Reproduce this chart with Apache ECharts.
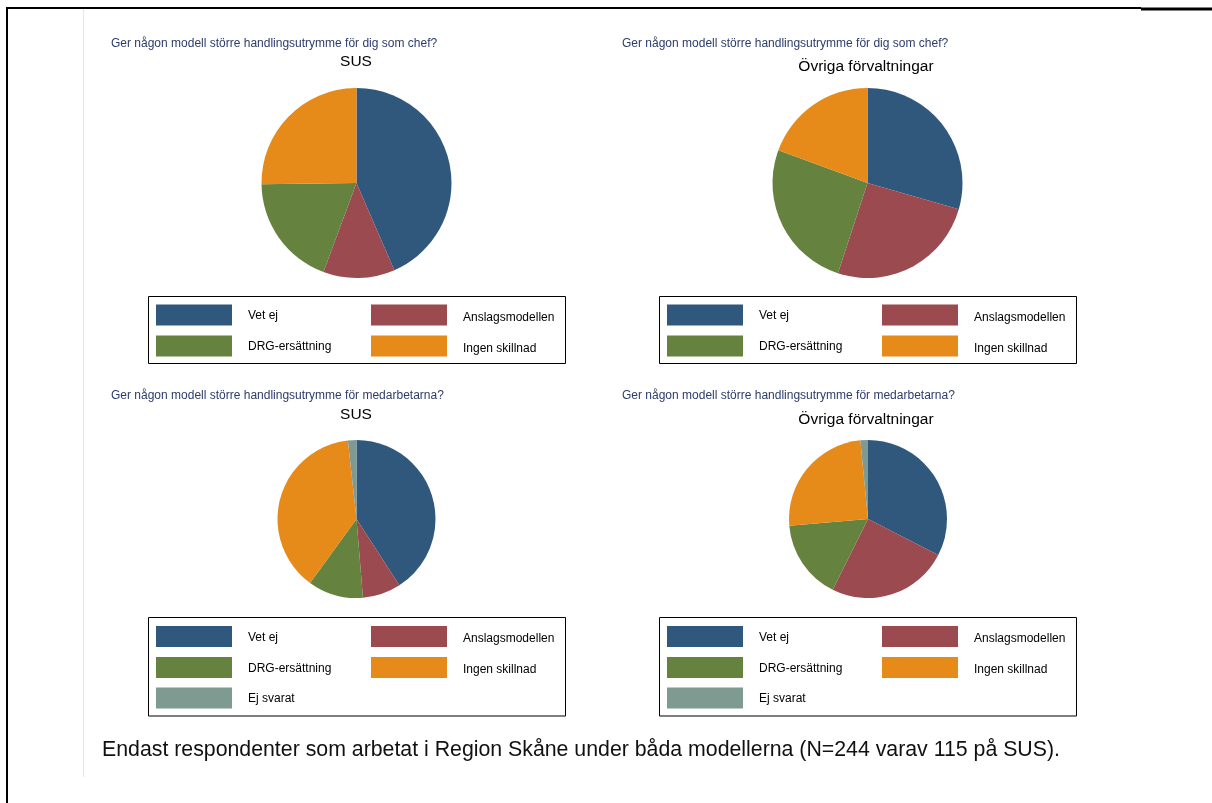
<!DOCTYPE html>
<html>
<head>
<meta charset="utf-8">
<script src="https://cdn.jsdelivr.net/npm/echarts@6/dist/echarts.min.js"></script>
<style>
  html, body { margin: 0; padding: 0; background: #ffffff; }
  #chart { width: 1212px; height: 803px; }
</style>
</head>
<body>
<div id="chart"></div>
<script>
// Answer categories and their colours
const categories = ['Vet ej', 'Anslagsmodellen', 'DRG-ersättning', 'Ingen skillnad', 'Ej svarat'];
const categoryColors = ['#30587C', '#9B4A4F', '#66823F', '#E68A1A', '#7F9A91'];

// Respondent counts per answer (SUS n=115, övriga förvaltningar n=129)
const chefSUS = [50, 14, 22, 29];
const chefOvriga = [38, 33, 33, 25];
const medarbSUS = [47, 9, 13, 44, 2];
const medarbOvriga = [42, 32, 21, 32, 2];

// Panel texts
const questionChef = 'Ger någon modell större handlingsutrymme för dig som chef?';
const questionMedarb = 'Ger någon modell större handlingsutrymme för medarbetarna?';
const groupSUS = 'SUS';
const groupOvriga = 'Övriga förvaltningar';
const footnote = 'Endast respondenter som arbetat i Region Skåne under båda modellerna (N=244 varav 115 på SUS).';

const FONT = 'Liberation Sans, Arial, sans-serif';

// Panel geometry: pie centre/radius, legend box, text anchors
const panels = [
  { values: chefSUS, question: questionChef, group: groupSUS, ox: 0, cx: 356.5, cy: 183, r: 95,
    qy: 50, gy: 69.5, boxTop: 296.5, boxH: 67, rows: [304.5, 335.5, 366.5] },
  { values: chefOvriga, question: questionChef, group: groupOvriga, ox: 511, cx: 867.5, cy: 183, r: 95,
    qy: 50, gy: 74.5, boxTop: 296.5, boxH: 67, rows: [304.5, 335.5, 366.5] },
  { values: medarbSUS, question: questionMedarb, group: groupSUS, ox: 0, cx: 356.5, cy: 519, r: 79,
    qy: 402, gy: 422.5, boxTop: 617.5, boxH: 98.5, rows: [626, 657, 687.5] },
  { values: medarbOvriga, question: questionMedarb, group: groupOvriga, ox: 511, cx: 868, cy: 519, r: 79,
    qy: 402, gy: 427.5, boxTop: 617.5, boxH: 98.5, rows: [626, 657, 687.5] }
];

const series = [];
const legends = [];
const graphics = [];

// Frame lines around the figure
graphics.push(
  { type: 'line', shape: { x1: 6, y1: 8, x2: 1141, y2: 8 }, style: { stroke: '#000', lineWidth: 2 } },
  { type: 'line', shape: { x1: 1141, y1: 9, x2: 1212, y2: 9 }, style: { stroke: '#000', lineWidth: 3 } },
  { type: 'line', shape: { x1: 7, y1: 7, x2: 7, y2: 803 }, style: { stroke: '#000', lineWidth: 2 } },
  { type: 'line', shape: { x1: 83.5, y1: 9, x2: 83.5, y2: 777 }, style: { stroke: '#e6e6e6', lineWidth: 1 } }
);

// Legend label styles: right column labels sit a little lower than the left column
const legendRich = {
  l: { fontSize: 12, fontFamily: FONT, color: '#000', lineHeight: 14, verticalAlign: 'bottom', padding: [0, 0, 0, 11] },
  r: { fontSize: 12, fontFamily: FONT, color: '#000', lineHeight: 17, verticalAlign: 'bottom', padding: [0, 0, 0, 11] }
};

panels.forEach((p, i) => {
  series.push({
    type: 'pie',
    name: p.group,
    center: [p.cx, p.cy],
    radius: [0, p.r],
    startAngle: 90,
    clockwise: true,
    label: { show: false },
    labelLine: { show: false },
    emphasis: { disabled: true },
    itemStyle: { borderWidth: 0 },
    animation: false,
    data: p.values.map((v, k) => ({
      name: categories[k],
      value: v,
      itemStyle: { color: categoryColors[k] }
    }))
  });

  // Question and group headings
  graphics.push({
    type: 'text', x: 111 + p.ox, y: p.qy,
    style: { text: p.question, font: '12px ' + FONT, fill: '#2E3B6B', textAlign: 'left', textVerticalAlign: 'bottom' }
  });
  graphics.push({
    type: 'text', x: p.ox === 0 ? 356 : 866, y: p.gy,
    style: { text: p.group, font: '15.5px ' + FONT, fill: '#000', textAlign: 'center', textVerticalAlign: 'bottom' }
  });

  // Legend frame
  graphics.push({
    type: 'rect', shape: { x: 148.5 + p.ox, y: p.boxTop, width: 417, height: p.boxH },
    style: { fill: 'none', stroke: '#000', lineWidth: 1 }
  });

  // Legend entries laid out in two columns
  p.values.forEach((v, k) => {
    const col = k % 2;
    const row = Math.floor(k / 2);
    const tag = col ? 'r' : 'l';
    legends.push({
      data: [categories[k]],
      left: 156 + col * 215 + p.ox,
      top: p.rows[row],
      padding: 0,
      icon: 'rect',
      itemWidth: 76,
      itemHeight: 21,
      selectedMode: false,
      formatter: name => '{' + tag + '|' + name + '}',
      textStyle: { fontSize: 12, fontFamily: FONT, color: '#000', rich: legendRich }
    });
  });
});

// Footnote
graphics.push({
  type: 'text', x: 102, y: 750,
  style: { text: footnote, font: '21.3px ' + FONT, fill: '#111', textAlign: 'left', textVerticalAlign: 'middle' }
});

const chart = echarts.init(document.getElementById('chart'), null, { renderer: 'canvas' });
chart.setOption({
  backgroundColor: '#ffffff',
  animation: false,
  legend: legends,
  series: series,
  graphic: graphics
});
</script>
</body>
</html>
